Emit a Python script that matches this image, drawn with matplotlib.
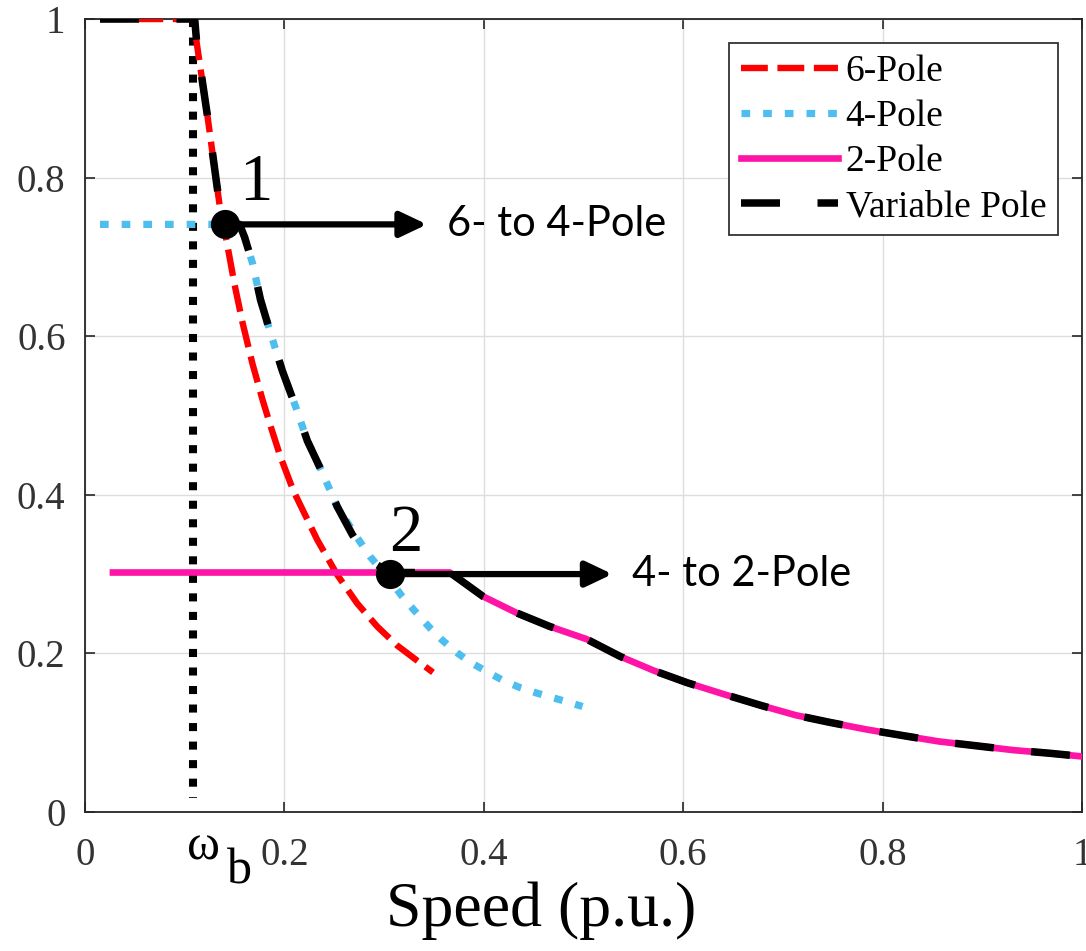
import matplotlib
matplotlib.use('Agg')
import matplotlib.pyplot as plt

# 数据
six_pole_x = [0.015, 0.110, 0.112, 0.123, 0.135, 0.142, 0.150, 0.158, 0.168, 0.178,
              0.186, 0.196, 0.209, 0.233, 0.253, 0.273, 0.293, 0.313, 0.333, 0.349]
six_pole_y = [1.0, 1.0, 0.970, 0.876, 0.765, 0.720, 0.665, 0.617, 0.565, 0.520,
              0.487, 0.448, 0.405, 0.343, 0.299, 0.263, 0.234, 0.210, 0.191, 0.176]

four_pole_x = [0.015, 0.155, 0.160, 0.168, 0.176, 0.186, 0.198, 0.211, 0.223, 0.238,
               0.253, 0.273, 0.286, 0.306, 0.318, 0.329, 0.346, 0.358, 0.373, 0.386,
               0.406, 0.419, 0.436, 0.453, 0.486, 0.499]
four_pole_y = [0.741, 0.741, 0.725, 0.692, 0.646, 0.604, 0.556, 0.512, 0.468, 0.428,
               0.385, 0.346, 0.322, 0.292, 0.272, 0.256, 0.232, 0.217, 0.201, 0.189,
               0.175, 0.166, 0.157, 0.150, 0.138, 0.133]

two_pole_x = [0.028, 0.366, 0.399, 0.433, 0.466, 0.503, 0.537, 0.571, 0.604, 0.642,
              0.679, 0.713, 0.747, 0.784, 0.822, 0.856, 0.897, 0.931, 0.968, 1.0]
two_pole_y = [0.302, 0.302, 0.272, 0.251, 0.234, 0.218, 0.196, 0.178, 0.163, 0.148,
              0.134, 0.122, 0.113, 0.104, 0.096, 0.089, 0.083, 0.078, 0.074, 0.070]

var_pole_x = [0.015, 0.110, 0.112, 0.123, 0.135, 0.140, 0.155, 0.160, 0.168, 0.176,
              0.186, 0.198, 0.211, 0.223, 0.238, 0.253, 0.268, 0.279, 0.290, 0.300,
              0.312, 0.366, 0.399, 0.433, 0.466, 0.503, 0.537, 0.571, 0.604, 0.642,
              0.679, 0.713, 0.747, 0.784, 0.822, 0.856, 0.897, 0.931, 0.968, 1.0]
var_pole_y = [1.0, 1.0, 0.970, 0.876, 0.765, 0.741, 0.741, 0.725, 0.692, 0.646,
              0.604, 0.556, 0.512, 0.468, 0.428, 0.385, 0.350, 0.328, 0.314, 0.306,
              0.302, 0.302, 0.272, 0.251, 0.234, 0.218, 0.196, 0.178, 0.163, 0.148,
              0.134, 0.122, 0.113, 0.104, 0.096, 0.089, 0.083, 0.078, 0.074, 0.070]

base_speed_x = [0.108, 0.108]
base_speed_y = [1.0, 0.018]

# 切换点
switch_x = [0.140, 0.306]
switch_y = [0.741, 0.300]
switch_names = ['1', '2']
switch_texts = ['6- to 4-Pole', '4- to 2-Pole']
arrow_end_x = [0.343, 0.529]

ticks = [0, 0.2, 0.4, 0.6, 0.8, 1]
tick_labels = ['0', '0.2', '0.4', '0.6', '0.8', '1']

serif = 'Liberation Serif'
plt.rcParams['font.family'] = serif

fig = plt.figure(figsize=(10.86, 9.51), dpi=100)
ax = fig.add_axes([0.0783, 0.1462, 0.9180, 0.8338])

# 曲线
ax.plot(base_speed_x, base_speed_y, color='black', lw=5.8, dashes=(1.0, 1.3),
        dash_capstyle='butt', zorder=2)
ax.plot(six_pole_x, six_pole_y, color='#FF0000', lw=4.6, dashes=(4.2, 1.5),
        label='6-Pole', zorder=3)
ax.plot(four_pole_x, four_pole_y, color='#4DBEEE', lw=5.2, dashes=(1.2, 1.8),
        label='4-Pole', zorder=3)
ax.plot(two_pole_x, two_pole_y, color='#FF15A5', lw=4.8, label='2-Pole', zorder=3)
ax.plot(var_pole_x, var_pole_y, color='black', lw=5.4, dashes=(5.2, 5.0),
        label='Variable Pole', zorder=4)

# 切换点和箭头
ax.plot(switch_x, switch_y, 'o', color='black', ms=20, zorder=6)
for i in range(2):
    ax.annotate('', xy=(arrow_end_x[i], switch_y[i]), xytext=(switch_x[i], switch_y[i]),
                arrowprops=dict(arrowstyle='-|>,head_length=0.8,head_width=0.38',
                                color='black', lw=4.5, shrinkA=0, shrinkB=0,
                                mutation_scale=20),
                zorder=5)
    ax.text(arrow_end_x[i] + 0.02, switch_y[i], switch_texts[i], family='Lato',
            fontsize=30, va='center', ha='left')
ax.text(0.171, 0.793, switch_names[0], fontsize=48, ha='center', va='center')
ax.text(0.322, 0.350, switch_names[1], fontsize=48, ha='center', va='center')

# 坐标轴
ax.set_xlim(0, 1)
ax.set_ylim(0, 1)
ax.set_xticks(ticks)
ax.set_xticklabels(tick_labels)
ax.set_yticks(ticks)
ax.set_yticklabels(tick_labels)
ax.tick_params(direction='in', length=7, width=1.2, labelsize=28, colors='#262626',
               top=True, right=True)
ax.tick_params(axis='x', labelcolor='#333333', pad=18)
ax.tick_params(axis='y', labelcolor='#333333', pad=14)
for s in ax.spines.values():
    s.set_color('#262626')
    s.set_linewidth(1.3)
ax.grid(True, color='#DDDDDD', lw=1.0)
ax.set_axisbelow(True)

# ω_b 标记
ax.text(0.102, -0.045, 'ω', fontsize=36, ha='left', va='center', clip_on=False)
ax.text(0.142, -0.075, 'b', fontsize=36, ha='left', va='center', clip_on=False)

ax.set_xlabel('Speed (p.u.)', fontsize=46)
ax.xaxis.set_label_coords(0.457, -0.088)

leg = ax.legend(loc='upper right', fontsize=27, handlelength=2.6, handletextpad=0.2,
                labelspacing=0.28, borderpad=0.3, borderaxespad=0.65, fancybox=False,
                edgecolor='#333333', framealpha=1)
leg.get_frame().set_linewidth(1.3)

fig.savefig('out.png', dpi=100)
